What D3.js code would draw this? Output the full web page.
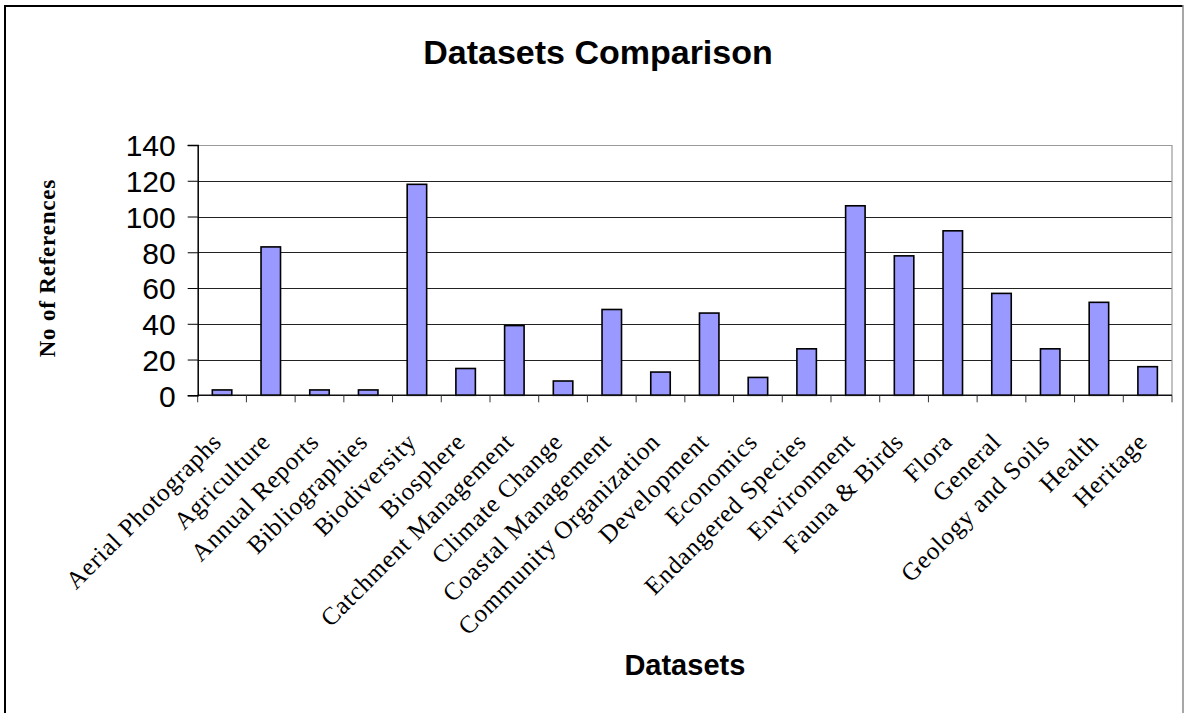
<!DOCTYPE html>
<html>
<head>
<meta charset="utf-8">
<script src="https://cdn.jsdelivr.net/npm/d3@7"></script>
<style>
  html, body { margin: 0; padding: 0; background: #fff; }
  svg { display: block; }
</style>
</head>
<body>
<svg id="chart" width="1187" height="713"></svg>
<script>
const categories = [
  "Aerial Photographs", "Agriculture", "Annual Reports", "Bibliographies", "Biodiversity",
  "Biosphere", "Catchment Management", "Climate Change", "Coastal Management",
  "Community Organization", "Development", "Economics", "Endangered Species",
  "Environment", "Fauna & Birds", "Flora", "General", "Geology and Soils", "Health", "Heritage"
];
const references = [3, 83, 3, 3, 118, 15, 39, 8, 48, 13, 46, 10, 26, 106, 78, 92, 57, 26, 52, 16];
const yTicks = [0, 20, 40, 60, 80, 100, 120, 140];
const titleText = "Datasets Comparison";
const xTitle = "Datasets";
const yTitle = "No of References";

const svg = d3.select("#chart");
const W = 1187, H = 713;
const plot = { left: 197.7, right: 1172, top: 145, bottom: 395.3 };

// outer frame
svg.append("line").attr("x1", 5).attr("x2", 1183).attr("y1", 6).attr("y2", 6)
  .attr("stroke", "#000").attr("stroke-width", 2);
svg.append("line").attr("x1", 5).attr("x2", 5).attr("y1", 5).attr("y2", H)
  .attr("stroke", "#000").attr("stroke-width", 2);
svg.append("line").attr("x1", 1183).attr("x2", 1183).attr("y1", 5).attr("y2", H)
  .attr("stroke", "#8a8a8a").attr("stroke-width", 1.5);

const x = d3.scaleBand().domain(categories).range([plot.left, plot.right]).padding(0);
const y = d3.scaleLinear().domain([0, 140]).range([plot.bottom, plot.top]);

// gridlines
svg.append("g").selectAll("line").data(yTicks.filter(d => d > 0 && d < 140)).join("line")
  .attr("x1", plot.left).attr("x2", plot.right)
  .attr("y1", d => Math.round(y(d)) + 0.5).attr("y2", d => Math.round(y(d)) + 0.5)
  .attr("stroke", "#222").attr("stroke-width", 1);

// plot border (top and right)
svg.append("path")
  .attr("d", `M${plot.left},${Math.round(y(140)) + 0.5}H${plot.right}V${plot.bottom}`)
  .attr("fill", "none").attr("stroke", "#9a9a9a").attr("stroke-width", 1.2);

// bars
const bw = x.bandwidth() * 0.4;
svg.append("g").selectAll("rect").data(categories).join("rect")
  .attr("x", d => x(d) + (x.bandwidth() - bw) / 2)
  .attr("y", (d, i) => y(references[i]))
  .attr("width", bw)
  .attr("height", (d, i) => y(0) - y(references[i]))
  .attr("fill", "#9999FF")
  .attr("stroke", "#000").attr("stroke-width", 1.6);

// x axis line and ticks
const xTickPos = categories.map(c => x(c)).concat([plot.right]);
svg.append("line").attr("x1", plot.left).attr("x2", plot.right)
  .attr("y1", plot.bottom).attr("y2", plot.bottom)
  .attr("stroke", "#111").attr("stroke-width", 1.5);
svg.append("g").selectAll("line").data(xTickPos).join("line")
  .attr("x1", d => d).attr("x2", d => d)
  .attr("y1", plot.bottom).attr("y2", plot.bottom + 7)
  .attr("stroke", "#333").attr("stroke-width", 1);

// y axis
const yAxis = d3.axisLeft(y).tickValues(yTicks).tickSize(10).tickPadding(12).tickFormat(d3.format("d"));
const gy = svg.append("g").attr("transform", `translate(${plot.left},0)`).call(yAxis);
gy.select(".domain").attr("stroke", "#000").attr("stroke-width", 1.5);
gy.selectAll(".tick line").attr("stroke", "#000").attr("stroke-width", 1);
gy.selectAll(".tick text")
  .attr("font-family", "'Liberation Sans', Arial, sans-serif")
  .attr("font-size", 30).attr("fill", "#000").attr("dy", "0.36em");

// x category labels (rotated)
svg.append("g").selectAll("text").data(categories).join("text")
  .attr("transform", d => `translate(${x(d) + x.bandwidth() / 2 + 1},${plot.bottom + 48}) rotate(-45)`)
  .attr("text-anchor", "end")
  .attr("font-family", "'Liberation Serif', 'Times New Roman', serif")
  .attr("font-size", 25)
  .attr("letter-spacing", "0.8px")
  .attr("fill", "#000")
  .text(d => d);

// title
svg.append("text").attr("x", 598).attr("y", 64).attr("text-anchor", "middle")
  .attr("font-family", "'Liberation Sans', Arial, sans-serif")
  .attr("font-weight", "bold").attr("font-size", 34).text(titleText);

// x title
svg.append("text").attr("x", (plot.left + plot.right) / 2).attr("y", 675).attr("text-anchor", "middle")
  .attr("font-family", "'Liberation Sans', Arial, sans-serif")
  .attr("font-weight", "bold").attr("font-size", 29).text(xTitle);

// y title
svg.append("text").attr("transform", `translate(55,${(plot.top + plot.bottom) / 2 - 2}) rotate(-90)`)
  .attr("text-anchor", "middle")
  .attr("font-family", "'Liberation Serif', 'Times New Roman', serif")
  .attr("font-weight", "bold").attr("font-size", 23).attr("letter-spacing", "0.8px")
  .text(yTitle);
</script>
</body>
</html>
